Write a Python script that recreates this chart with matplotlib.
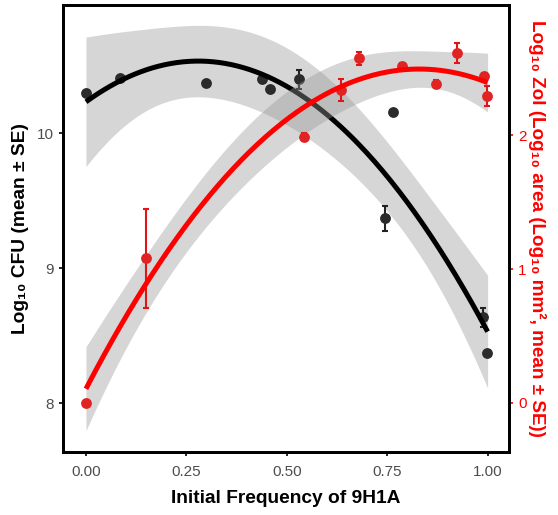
import numpy as np
import matplotlib
matplotlib.use("Agg")
import matplotlib.pyplot as plt

plt.rcParams['font.family'] = ['Liberation Sans', 'DejaVu Sans']

# CFU data (left axis)
cfu_x = [0.0, 0.085, 0.298, 0.439, 0.458, 0.531, 0.744, 0.765, 0.988, 0.999]
cfu_y = [10.296, 10.407, 10.373, 10.40, 10.33, 10.40, 9.368, 10.158, 8.635, 8.373]
cfu_se = [0.01, 0.01, 0.01, 0.01, 0.01, 0.07, 0.09, 0.01, 0.07, 0.01]

# ZoI data (right axis)
zoi_x = [0.0, 0.149, 0.543, 0.635, 0.680, 0.788, 0.871, 0.924, 0.991, 0.999]
zoi_y = [0.0, 1.08, 1.983, 2.336, 2.572, 2.515, 2.381, 2.61, 2.44, 2.293]
zoi_se = [0.01, 0.37, 0.03, 0.08, 0.05, 0.02, 0.03, 0.075, 0.02, 0.075]

x_ticks = [0.0, 0.25, 0.5, 0.75, 1.0]
x_ticklabels = ['0.00', '0.25', '0.50', '0.75', '1.00']


def quad_fit(x, y, xs, t=2.3646):
    # quadratic fit + 95% band, same idea as geom_smooth(method="lm", y ~ poly(x, 2))
    x = np.asarray(x)
    y = np.asarray(y)
    X = np.vstack([np.ones_like(x), x, x ** 2]).T
    beta = np.linalg.lstsq(X, y, rcond=None)[0]
    resid = y - X @ beta
    s2 = resid @ resid / (len(x) - 3)
    XtXi = np.linalg.inv(X.T @ X)
    Xs = np.vstack([np.ones_like(xs), xs, xs ** 2]).T
    yhat = Xs @ beta
    se = np.sqrt(s2 * np.einsum('ij,jk,ik->i', Xs, XtXi, Xs))
    return yhat, yhat - t * se, yhat + t * se


xs = np.linspace(0, 1, 200)

fig = plt.figure(figsize=(5.58, 5.15), dpi=100)
ax = fig.add_axes([0.113, 0.1223, 0.799, 0.8677])
ax2 = ax.twinx()

# black series
fit, lo, hi = quad_fit(cfu_x, cfu_y, xs)
ax.fill_between(xs, lo, hi, color='#999999', alpha=0.4, linewidth=0)
ax.errorbar(cfu_x, cfu_y, yerr=cfu_se, fmt='none', ecolor='#222222',
            elinewidth=1.5, capsize=2.5, capthick=1.5)
ax.plot(cfu_x, cfu_y, 'o', color='#2b2b2b', markersize=7.8, markeredgewidth=0)
ax.plot(xs, fit, color='black', linewidth=3.6, solid_capstyle='butt')

# red series
fit2, lo2, hi2 = quad_fit(zoi_x, zoi_y, xs)
ax2.fill_between(xs, lo2, hi2, color='#999999', alpha=0.4, linewidth=0)
ax2.errorbar(zoi_x, zoi_y, yerr=zoi_se, fmt='none', ecolor='#e01515',
             elinewidth=1.5, capsize=2.5, capthick=1.5)
ax2.plot(zoi_x, zoi_y, 'o', color='#e02424', markersize=7.8, markeredgewidth=0)
ax2.plot(xs, fit2, color='#ff0000', linewidth=3.6, solid_capstyle='butt')

ax.set_xlim(-0.057, 1.053)
ax.set_ylim(7.637, 10.948)
ax2.set_ylim(-0.366, 2.97)

ax.set_xticks(x_ticks)
ax.set_xticklabels(x_ticklabels)
ax.set_yticks([8, 9, 10])
ax2.set_yticks([0, 1, 2])

ax.tick_params(axis='both', colors='black', labelcolor='#4d4d4d', labelsize=11,
               length=3, width=1.2)
ax.tick_params(axis='x', pad=6)
ax2.tick_params(axis='y', colors='red', labelcolor='red', labelsize=11,
                length=3, width=1.2)

for a in (ax, ax2):
    for s in a.spines.values():
        s.set_linewidth(2)
        s.set_color('black')

ax.set_xlabel('Initial Frequency of 9H1A', fontsize=13.8, fontweight='bold', labelpad=8)
ax.set_ylabel('Log₁₀ CFU (mean ± SE)', fontsize=13.8, fontweight='bold', labelpad=6)
ax2.set_ylabel('Log₁₀ ZoI (Log₁₀ area (Log₁₀ mm², mean ± SE))', fontsize=13.6,
               fontweight='bold', color='red', rotation=270, labelpad=14)

fig.savefig('out.png', dpi=100)
